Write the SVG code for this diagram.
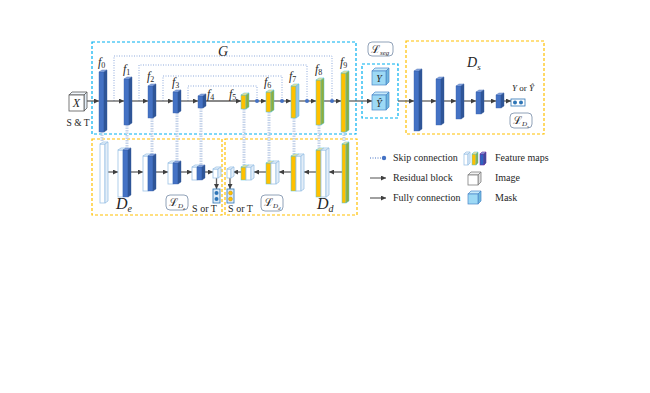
<svg xmlns="http://www.w3.org/2000/svg" width="650" height="393" viewBox="0 0 650 393">
<style>
.bf{fill:#4472C4;stroke:#3A62AD;stroke-width:0.4}
.bt{fill:#8AA8E0;stroke:#3A62AD;stroke-width:0.4}
.bs{fill:#2F5597;stroke:#2F5597;stroke-width:0.4}
.yf{fill:#FFC000;stroke:#4FC3E0;stroke-width:0.5}
.yt{fill:#FFE38A;stroke:#4FC3E0;stroke-width:0.5}
.ys{fill:#8FAF3C;stroke:#4FC3E0;stroke-width:0.5}
.wf{fill:#FFFFFF;stroke:#9DC3E6;stroke-width:0.8}
.wt{fill:#F2F7FC;stroke:#9DC3E6;stroke-width:0.8}
.ws{fill:#E4EEF8;stroke:#9DC3E6;stroke-width:0.8}
.mf{fill:#9DD9F5;stroke:#4A86C8;stroke-width:0.7}
.mt{fill:#C7EAFA;stroke:#4A86C8;stroke-width:0.7}
.ms{fill:#6FB8DE;stroke:#4A86C8;stroke-width:0.7}
.dbB{fill:none;stroke:#00B0F0;stroke-width:1.2;stroke-dasharray:3 2}
.dbY{fill:none;stroke:#FFC000;stroke-width:1.2;stroke-dasharray:3 2}
.ml{fill:none;stroke:#606060;stroke-width:1.3}
.skip{fill:none;stroke:#8FAADC;stroke-width:1;stroke-dasharray:1 1.5}
.vc{fill:none;stroke:#C5D3EA;stroke-width:3;stroke-dasharray:1.5 1}
.lbl{fill:#FFFFFF;stroke:#8497B0;stroke-width:0.9}
.t{font-family:"Liberation Serif","DejaVu Serif",serif;fill:#262626}
.it{font-style:italic}
</style>
<defs>
<marker id="ar" viewBox="0 0 6 6" refX="6" refY="3" markerWidth="5" markerHeight="5" markerUnits="userSpaceOnUse" orient="auto"><path d="M0,0L6,3L0,6z" fill="#404040"/></marker>
</defs>

<g id="boxes">
<rect class="dbB" x="92" y="42" width="264" height="92"/>
<rect class="dbB" x="362" y="64" width="36" height="54"/>
<rect class="dbY" x="406" y="41" width="138" height="93"/>
<rect class="dbY" x="92" y="139" width="130" height="76"/>
<rect class="dbY" x="225" y="139" width="132" height="76"/>
</g>

<g id="connectors">
<path class="skip" d="M114,101V56H332V101"/>
<path class="skip" d="M139,101V65H307V101"/>
<path class="skip" d="M163,101V76H282V101"/>
<path class="skip" d="M188,101V86H257V101"/>
<path class="vc" d="M102,132V142M127,125V148M152,118V154M177,113V161M201,108V165M244,109V165M269,112V161M294,118V154M319,125V148M344,132V142"/>
<g class="ml">
<path d="M87,101H99" marker-end="url(#ar)"/>
<path d="M107,101H124" marker-end="url(#ar)"/>
<path d="M132,101H148" marker-end="url(#ar)"/>
<path d="M156,101H173" marker-end="url(#ar)"/>
<path d="M181,101H198" marker-end="url(#ar)"/>
<path d="M206,101H241" marker-end="url(#ar)"/>
<path d="M249,101H266" marker-end="url(#ar)"/>
<path d="M274,101H291" marker-end="url(#ar)"/>
<path d="M299,101H316" marker-end="url(#ar)"/>
<path d="M324,101H341" marker-end="url(#ar)"/>
<path d="M349,101H372" marker-end="url(#ar)"/>
<path d="M398,101H414" marker-end="url(#ar)"/>
<path d="M422,101H436" marker-end="url(#ar)"/>
<path d="M444,101H456" marker-end="url(#ar)"/>
<path d="M464,101H476" marker-end="url(#ar)"/>
<path d="M484,101H496" marker-end="url(#ar)"/>
<path d="M504,101H511" marker-end="url(#ar)"/>
<path d="M108,172H118" marker-end="url(#ar)"/>
<path d="M131,172H143" marker-end="url(#ar)"/>
<path d="M156,172H168" marker-end="url(#ar)"/>
<path d="M181,172H192" marker-end="url(#ar)"/>
<path d="M205,172H213" marker-end="url(#ar)"/>
<path d="M216.5,178V189" marker-end="url(#ar)"/>
<path d="M342,172H329" marker-end="url(#ar)"/>
<path d="M316,172H304" marker-end="url(#ar)"/>
<path d="M291,172H279" marker-end="url(#ar)"/>
<path d="M266,172H254" marker-end="url(#ar)"/>
<path d="M241,172H233" marker-end="url(#ar)"/>
<path d="M230,178V189" marker-end="url(#ar)"/>
</g>
<g fill="#4472C4">
<circle cx="257" cy="101" r="2"/><circle cx="282" cy="101" r="2"/><circle cx="307" cy="101" r="2"/><circle cx="332" cy="101" r="2"/>
</g>
</g>

<g id="input">
<polygon class="wt" points="69,95 72,92 87,92 84,95" style="stroke:#595959"/>
<polygon class="ws" points="84,95 87,92 87,108 84,111" style="stroke:#595959"/>
<rect x="69" y="95" width="15" height="16" fill="#fff" stroke="#595959" stroke-width="0.8"/>
<text class="t it" x="76.5" y="107" font-size="12" text-anchor="middle">X</text>
<text class="t" x="78" y="126" font-size="9.5" text-anchor="middle">S &amp; T</text>
</g>

<g id="f0"><rect class="bf" x="99" y="72" width="5" height="60"/><polygon class="bt" points="99,72 102,70 107,70 104,72"/><polygon class="bs" points="104,72 107,70 107,130 104,132"/></g>
<g id="f1"><rect class="bf" x="124" y="79" width="5" height="46"/><polygon class="bt" points="124,79 127,77 132,77 129,79"/><polygon class="bs" points="129,79 132,77 132,123 129,125"/></g>
<g id="f2"><rect class="bf" x="148" y="86" width="5" height="32"/><polygon class="bt" points="148,86 151,84 156,84 153,86"/><polygon class="bs" points="153,86 156,84 156,116 153,118"/></g>
<g id="f3"><rect class="bf" x="173" y="92" width="5" height="21"/><polygon class="bt" points="173,92 176,90 181,90 178,92"/><polygon class="bs" points="178,92 181,90 181,111 178,113"/></g>
<g id="f4"><rect class="bf" x="198" y="96" width="5" height="12"/><polygon class="bt" points="198,96 201,94 206,94 203,96"/><polygon class="bs" points="203,96 206,94 206,106 203,108"/></g>
<g id="f5"><rect class="yf" x="241" y="95" width="5" height="14"/><polygon class="yt" points="241,95 244,93 249,93 246,95"/><polygon class="ys" points="246,95 249,93 249,107 246,109"/></g>
<g id="f6"><rect class="yf" x="266" y="92" width="5" height="20"/><polygon class="yt" points="266,92 269,90 274,90 271,92"/><polygon class="ys" points="271,92 274,90 274,110 271,112"/></g>
<g id="f7"><rect class="yf" x="291" y="86" width="5" height="32"/><polygon class="yt" points="291,86 294,84 299,84 296,86"/><polygon class="ys" points="296,86 299,84 299,116 296,118" style="fill:#9DC3E6"/></g>
<g id="f8"><rect class="yf" x="316" y="80" width="5" height="45"/><polygon class="yt" points="316,80 319,78 324,78 321,80"/><polygon class="ys" points="321,80 324,78 324,123 321,125"/></g>
<g id="f9"><rect class="yf" x="341" y="73" width="5" height="59"/><polygon class="yt" points="341,73 344,71 349,71 346,73"/><polygon class="ys" points="346,73 349,71 349,130 346,132"/></g>

<g id="flabels" class="t it" font-size="12">
<text x="98" y="66">f<tspan font-size="8" font-style="normal" dy="2">0</tspan></text>
<text x="123" y="73">f<tspan font-size="8" font-style="normal" dy="2">1</tspan></text>
<text x="147" y="80">f<tspan font-size="8" font-style="normal" dy="2">2</tspan></text>
<text x="172" y="86">f<tspan font-size="8" font-style="normal" dy="2">3</tspan></text>
<text x="207" y="98">f<tspan font-size="8" font-style="normal" dy="2">4</tspan></text>
<text x="229" y="98">f<tspan font-size="8" font-style="normal" dy="2">5</tspan></text>
<text x="264" y="86">f<tspan font-size="8" font-style="normal" dy="2">6</tspan></text>
<text x="289" y="80">f<tspan font-size="8" font-style="normal" dy="2">7</tspan></text>
<text x="315" y="73">f<tspan font-size="8" font-style="normal" dy="2">8</tspan></text>
<text x="340" y="66">f<tspan font-size="8" font-style="normal" dy="2">9</tspan></text>
</g>
<text class="t it" x="218" y="56" font-size="14">G</text>

<g id="lseg">
<rect class="lbl" x="368" y="42" width="25" height="14" rx="4"/>
<text class="t" x="371" y="52.5" font-size="11">ℒ<tspan class="it" font-size="7" dy="2">seg</tspan></text>
</g>
<g id="Y"><polygon class="mt" points="372,71 375,68 389,68 386,71"/><polygon class="ms" points="386,71 389,68 389,82 386,85"/><rect class="mf" x="372" y="71" width="14" height="14"/><text class="t it" x="379" y="82" font-size="10" text-anchor="middle">Y</text></g>
<g id="Yhat"><polygon class="mt" points="372,95 375,92 389,92 386,95"/><polygon class="ms" points="386,95 389,92 389,107 386,110"/><rect class="mf" x="372" y="95" width="14" height="15"/><text class="t it" x="379" y="107" font-size="10" text-anchor="middle">Ŷ</text></g>

<g id="ds1"><rect class="bf" x="414" y="71" width="5" height="60"/><polygon class="bt" points="414,71 417,69 422,69 419,71"/><polygon class="bs" points="419,71 422,69 422,129 419,131"/></g>
<g id="ds2"><rect class="bf" x="436" y="79" width="5" height="46"/><polygon class="bt" points="436,79 439,77 444,77 441,79"/><polygon class="bs" points="441,79 444,77 444,123 441,125"/></g>
<g id="ds3"><rect class="bf" x="456" y="86" width="5" height="33"/><polygon class="bt" points="456,86 459,84 464,84 461,86"/><polygon class="bs" points="461,86 464,84 464,117 461,119"/></g>
<g id="ds4"><rect class="bf" x="476" y="92" width="5" height="22"/><polygon class="bt" points="476,92 479,90 484,90 481,92"/><polygon class="bs" points="481,92 484,90 484,112 481,114"/></g>
<g id="ds5"><rect class="bf" x="496" y="95" width="5" height="13"/><polygon class="bt" points="496,95 499,93 504,93 501,95"/><polygon class="bs" points="501,95 504,93 504,106 501,108"/></g>
<g id="dsout"><rect x="511" y="99" width="14" height="7" fill="#fff" stroke="#2E75B6" stroke-width="0.8"/><circle cx="515" cy="102.5" r="2" fill="#2E75B6"/><circle cx="521" cy="102.5" r="2" fill="#2E75B6"/></g>
<text class="t" x="512" y="91" font-size="9"><tspan class="it">Y</tspan> or <tspan class="it">Ŷ</tspan></text>
<g id="lds"><rect class="lbl" x="510" y="113" width="22" height="15" rx="4"/><text class="t" x="513" y="124" font-size="11">ℒ<tspan class="it" font-size="7" dy="2">D</tspan><tspan class="it" font-size="5" dy="1.5">s</tspan></text></g>
<text class="t it" x="467" y="67" font-size="14">D<tspan font-size="9" dy="3">s</tspan></text>

<g id="de1"><rect class="wf" x="100" y="144" width="5" height="59"/><polygon class="wt" points="100,144 103,142 108,142 105,144"/><polygon class="ws" points="105,144 108,142 108,201 105,203"/></g>
<g id="de2"><rect class="wf" x="118" y="150" width="5" height="47"/><polygon class="wt" points="118,150 121,148 126,148 123,150"/><rect class="bf" x="123" y="150" width="5" height="47"/><polygon class="bt" points="123,150 126,148 131,148 128,150"/><polygon class="bs" points="128,150 131,148 131,195 128,197"/></g>
<g id="de3"><rect class="wf" x="143" y="156" width="5" height="35"/><polygon class="wt" points="143,156 146,154 151,154 148,156"/><rect class="bf" x="148" y="156" width="5" height="35"/><polygon class="bt" points="148,156 151,154 156,154 153,156"/><polygon class="bs" points="153,156 156,154 156,189 153,191"/></g>
<g id="de4"><rect class="wf" x="168" y="163" width="5" height="21"/><polygon class="wt" points="168,163 171,161 176,161 173,163"/><rect class="bf" x="173" y="163" width="5" height="21"/><polygon class="bt" points="173,163 176,161 181,161 178,163"/><polygon class="bs" points="178,163 181,161 181,182 178,184"/></g>
<g id="de5"><rect class="wf" x="192" y="167" width="5" height="13"/><polygon class="wt" points="192,167 195,165 200,165 197,167"/><rect class="bf" x="197" y="167" width="5" height="13"/><polygon class="bt" points="197,167 200,165 205,165 202,167"/><polygon class="bs" points="202,167 205,165 205,178 202,180"/></g>
<g id="de6"><rect class="wf" x="213" y="169" width="5" height="9"/><polygon class="wt" points="213,169 216,167 221,167 218,169"/><polygon class="ws" points="218,169 221,167 221,176 218,178"/></g>
<g id="deout"><rect x="213" y="189" width="7" height="14" fill="#DEEBF7" stroke="#2E75B6" stroke-width="0.8"/><circle cx="216.5" cy="193" r="2" fill="#2E75B6"/><circle cx="216.5" cy="199" r="2" fill="#2E75B6"/></g>
<text class="t" x="204.5" y="212" font-size="10" text-anchor="middle">S or T</text>
<g id="lde"><rect class="lbl" x="166" y="195" width="22" height="15" rx="4"/><text class="t" x="169" y="206" font-size="11">ℒ<tspan class="it" font-size="7" dy="2">D</tspan><tspan class="it" font-size="5" dy="1.5">e</tspan></text></g>
<text class="t it" x="116" y="209" font-size="16">D<tspan font-size="10" dy="3">e</tspan></text>

<g id="dd0"><rect class="wf" x="227" y="169" width="4" height="9"/><polygon class="wt" points="227,169 230,167 234,167 231,169"/><polygon class="ws" points="231,169 234,167 234,176 231,178"/></g>
<g id="dd1"><rect class="yf" x="241" y="167" width="5" height="13"/><polygon class="yt" points="241,167 244,165 249,165 246,167"/><rect class="wf" x="246" y="167" width="5" height="13"/><polygon class="wt" points="246,167 249,165 254,165 251,167"/><polygon class="ws" points="251,167 254,165 254,178 251,180"/></g>
<g id="dd2"><rect class="yf" x="266" y="163" width="5" height="21"/><polygon class="yt" points="266,163 269,161 274,161 271,163"/><rect class="wf" x="271" y="163" width="5" height="21"/><polygon class="wt" points="271,163 274,161 279,161 276,163"/><polygon class="ws" points="276,163 279,161 279,182 276,184"/></g>
<g id="dd3"><rect class="yf" x="291" y="156" width="5" height="35"/><polygon class="yt" points="291,156 294,154 299,154 296,156"/><rect class="wf" x="296" y="156" width="5" height="35"/><polygon class="wt" points="296,156 299,154 304,154 301,156"/><polygon class="ws" points="301,156 304,154 304,189 301,191"/></g>
<g id="dd4"><rect class="yf" x="316" y="150" width="5" height="47"/><polygon class="yt" points="316,150 319,148 324,148 321,150"/><rect class="wf" x="321" y="150" width="5" height="47"/><polygon class="wt" points="321,150 324,148 329,148 326,150"/><polygon class="ws" points="326,150 329,148 329,195 326,197"/></g>
<g id="dd5"><rect class="yf" x="342" y="144" width="4" height="59"/><polygon class="yt" points="342,144 345,142 349,142 346,144"/><polygon class="ys" points="346,144 349,142 349,201 346,203"/></g>
<g id="ddout"><rect x="227" y="189" width="7" height="14" fill="#DEEBF7" stroke="#2E75B6" stroke-width="0.8"/><circle cx="230.5" cy="193" r="2" fill="#FFC000" stroke="#B08000" stroke-width="0.4"/><circle cx="230.5" cy="199" r="2" fill="#FFC000" stroke="#B08000" stroke-width="0.4"/></g>
<text class="t" x="240.5" y="212" font-size="10" text-anchor="middle">S or T</text>
<g id="ldd"><rect class="lbl" x="261" y="195" width="22" height="16" rx="4"/><text class="t" x="264" y="206" font-size="11">ℒ<tspan class="it" font-size="7" dy="2">D</tspan><tspan class="it" font-size="5" dy="1.5">d</tspan></text></g>
<text class="t it" x="317" y="209" font-size="16">D<tspan font-size="10" dy="3">d</tspan></text>

<g id="legend">
<path class="skip" d="M370,158H383" style="stroke:#4472C4"/>
<circle cx="384" cy="158" r="2.2" fill="#4472C4"/>
<path d="M370,178H386" stroke="#505050" stroke-width="1" marker-end="url(#ar)"/>
<path d="M370,198H386" stroke="#808080" stroke-width="1.5" marker-end="url(#ar)"/>
<text class="t" x="393" y="161" font-size="10">Skip connection</text>
<text class="t" x="393" y="181" font-size="10">Residual block</text>
<text class="t" x="393" y="201" font-size="10">Fully connection</text>
<rect class="wf" x="464" y="154" width="4" height="11"/><polygon class="wt" points="464,154 466,152 470,152 468,154"/><polygon class="ws" points="468,154 470,152 470,163 468,165"/>
<rect class="yf" x="472" y="154" width="4" height="11"/><polygon class="yt" points="472,154 474,152 478,152 476,154"/><polygon class="ys" points="476,154 478,152 478,163 476,165"/>
<rect x="480" y="154" width="4" height="11" fill="#2E64C0" stroke="#7030A0" stroke-width="0.6"/><polygon points="480,154 482,152 486,152 484,154" fill="#8AA8E0" stroke="#7030A0" stroke-width="0.6"/><polygon points="484,154 486,152 486,163 484,165" fill="#2F5597" stroke="#7030A0" stroke-width="0.6"/>
<polygon points="468,175 471,172 481,172 478,175" fill="#F2F2F2" stroke="#7F7F7F" stroke-width="0.8"/><polygon points="478,175 481,172 481,182 478,185" fill="#E0E0E0" stroke="#7F7F7F" stroke-width="0.8"/><rect x="468" y="175" width="10" height="10" fill="#fff" stroke="#7F7F7F" stroke-width="0.8"/>
<polygon class="mt" points="468,194 471,191 481,191 478,194"/><polygon class="ms" points="478,194 481,191 481,201 478,204"/><rect class="mf" x="468" y="194" width="10" height="10"/>
<text class="t" x="495" y="161" font-size="10">Feature maps</text>
<text class="t" x="495" y="181" font-size="10">Image</text>
<text class="t" x="495" y="201" font-size="10">Mask</text>
</g>
</svg>
